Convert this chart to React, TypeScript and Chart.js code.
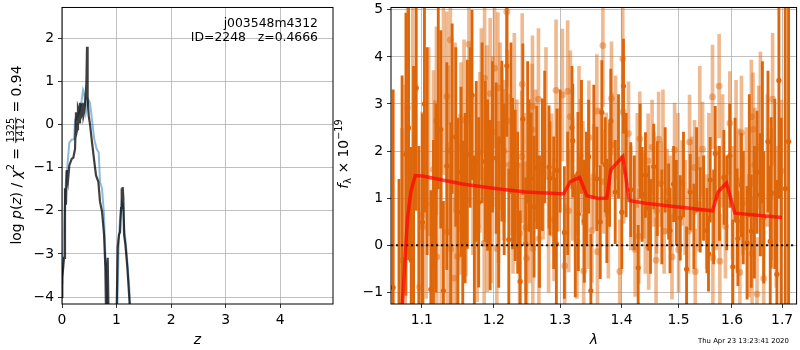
import React, { useEffect, useRef } from 'react';
import { Chart, registerables } from 'chart.js';

Chart.register(...registerables);

const FONT = '"DejaVu Sans", sans-serif';

// ---------------- left panel: log p(z) ----------------
const Z_TICKS = [0, 1, 2, 3, 4];
const LOGP_TICKS = [-4, -3, -2, -1, 0, 1, 2];
const LOGP_TICK_LABELS = ['\u22124', '\u22123', '\u22122', '\u22121', '0', '1', '2'];

const Z_DARK = [0.0, 0.006, 0.037, 0.055, 0.073, 0.086, 0.11, 0.134, 0.178, 0.208, 0.239, 0.257, 0.265, 0.281, 0.293, 0.306, 0.318, 0.33, 0.342, 0.355, 0.368, 0.38, 0.392, 0.404, 0.425, 0.447, 0.459, 0.47, 0.49, 0.514, 0.55, 0.593, 0.624, 0.667, 0.697, 0.734, 0.771, 0.795, 0.81, 0.825, 0.838, 0.856, 0.88, 0.98, 1.003, 1.021, 1.045, 1.064, 1.083, 1.095, 1.104, 1.113, 1.125, 1.138, 1.162, 1.199, 1.248, 1.28];
const LOGP_DARK = [-4.0, -3.55, -3.09, -1.48, -1.86, -1.06, -1.3, -0.95, -0.8, -0.77, -0.57, 0.28, -0.2, -0.11, 0.4, 0.35, 0.05, 0.5, 0.15, 0.2, 0.45, 0.5, 0.2, 0.28, 0.5, 0.96, 1.8, 0.6, 0.2, 0.0, -0.41, -0.87, -1.18, -1.33, -1.79, -2.02, -2.55, -3.3, -4.6, -3.4, -3.09, -4.6, -7, -7, -4.3, -2.86, -2.55, -2.5, -1.94, -1.48, -1.7, -1.45, -1.7, -2.55, -2.78, -3.32, -4.3, -5.5];

const Z_BLUE = [0.006, 0.043, 0.073, 0.098, 0.134, 0.178, 0.22, 0.24, 0.28, 0.32, 0.355, 0.386, 0.41, 0.44, 0.483, 0.514, 0.556, 0.593, 0.636, 0.673, 0.697, 0.734, 0.771, 0.8, 0.83, 0.86, 0.98, 1.02, 1.04, 1.064, 1.095, 1.12, 1.144, 1.187, 1.235, 1.27];
const LOGP_BLUE = [-3.7, -2.1, -1.27, -0.97, -0.42, -0.35, -0.35, 0.1, 0.18, 0.3, 0.5, 0.8, 0.7, 0.28, 0.58, 0.5, 0.04, -0.35, -0.57, -0.65, -1.33, -1.48, -2.1, -3.2, -4.1, -6, -6, -4.0, -2.7, -2.2, -1.8, -1.88, -2.4, -3.0, -3.8, -5];

const FIELD = 'j003548m4312';
const ID_LINE = 'ID=2248   z=0.4666';

// ---------------- right panel: spectrum ----------------
const WAVE_TICKS = [1.1, 1.2, 1.3, 1.4, 1.5, 1.6, 1.7];
const WAVE_TICK_LABELS = ['1.1', '1.2', '1.3', '1.4', '1.5', '1.6', '1.7'];
const FLUX_TICKS = [-1, 0, 1, 2, 3, 4, 5];
const FLUX_TICK_LABELS = ['\u22121', '0', '1', '2', '3', '4', '5'];

// beam A (dark)
const WAVE_A = [1.0625, 1.0700, 1.0790, 1.0824, 1.0859, 1.0925, 1.1008, 1.1034, 1.1120, 1.1155, 1.1254, 1.1290, 1.1336, 1.1460, 1.1488, 1.1533, 1.1557, 1.1621, 1.1687, 1.1747, 1.1781, 1.1875, 1.1909, 1.1946, 1.2033, 1.2116, 1.2189, 1.2218, 1.2274, 1.2312, 1.2387, 1.2427, 1.2472, 1.2522, 1.2552, 1.2597, 1.2638, 1.2725, 1.2827, 1.2840, 1.2941, 1.2950, 1.3067, 1.3188, 1.3200, 1.3283, 1.3290, 1.3386, 1.3455, 1.3492, 1.3590, 1.3646, 1.3672, 1.3728, 1.3755, 1.3821, 1.3895, 1.4006, 1.4034, 1.4158, 1.4286, 1.4355, 1.4412, 1.4469, 1.4556, 1.4821, 1.4846, 1.4911, 1.5031, 1.5146, 1.5213, 1.5398, 1.5523, 1.5553, 1.5585, 1.5680, 1.5844, 1.5959, 1.6017, 1.6101, 1.6115, 1.6183, 1.6295, 1.6379, 1.6492, 1.6558, 1.6626, 1.6712, 1.6758, 1.6778, 1.6893, 1.6934, 1.7064, 1.7133];
const FLUX_A = [-0.9, -1.4, 1.93, 2.49, -0.32, 3.34, 0.49, 3.0, -0.94, -0.07, 2.46, -0.97, 1.68, 2.30, 0.70, 1.56, 0.31, 1.93, 3.19, 1.78, 0.91, 1.78, 1.49, 0.85, 1.85, 2.21, 3.81, 0.12, 1.52, 1.27, -0.77, 2.68, 0.03, 1.69, 1.41, 0.82, 1.65, 1.71, 1.66, 1.42, 0.03, 1.59, 0.27, 2.50, 2.22, 1.52, 0.66, 0.51, 1.88, -0.97, 1.41, 0.49, 2.82, 1.71, 0.73, 2.64, 1.13, 0.70, 3.38, 1.18, -0.48, 1.08, 1.49, 0.79, 1.67, 0.93, 0.31, 1.30, 0.58, -0.51, 1.13, 0.75, 0.31, -0.18, 1.39, 1.95, 1.44, 1.90, -0.46, 0.52, 0.14, 1.28, 0.05, 0.30, 1.55, 1.07, 0.59, 2.20, 0.08, 1.11, -0.62, 3.50, 1.2, 2.2];
const ERR_A = [4.2, 2.8, 3.0, 2.8, 2.4, 2.6, 2.3, 2.3, 2.1, 2.3, 2.1, 1.9, 2.2, 1.9, 2.0, 1.8, 1.9, 2.0, 1.8, 1.7, 1.8, 1.7, 1.6, 1.8, 1.6, 1.7, 1.5, 1.5, 1.6, 1.6, 1.5, 1.6, 1.4, 1.4, 1.4, 1.5, 1.3, 1.4, 1.3, 1.2, 1.4, 1.3, 1.4, 1.3, 1.2, 1.3, 1.2, 1.3, 1.2, 1.2, 1.1, 1.2, 1.1, 1.0, 1.1, 1.1, 1.1, 1.2, 1.0, 1.0, 0.9, 1.0, 0.9, 0.9, 0.9, 0.8, 0.9, 0.8, 0.9, 0.9, 0.8, 0.9, 0.9, 0.8, 0.9, 1.0, 1.0, 1.1, 1.0, 1.1, 1.0, 1.1, 1.2, 1.2, 1.3, 1.3, 1.4, 1.5, 1.6, 1.6, 2.0, 2.5, 5.0, 5.0];

// beam A, bars whose markers are hidden among the others
const WAVE_A2 = [1.0740, 1.0890, 1.0960, 1.1070, 1.1190, 1.1220, 1.1390, 1.1410, 1.1590, 1.1660, 1.1720, 1.1830, 1.1980, 1.2070, 1.2150, 1.2250, 1.2350, 1.2500, 1.2680, 1.2760, 1.2900, 1.3000, 1.3120, 1.3240, 1.3340, 1.3420, 1.3540, 1.3800, 1.3950, 1.4080, 1.4220, 1.4320, 1.4500, 1.4620, 1.4700, 1.4760, 1.4960, 1.5090, 1.5280, 1.5330, 1.5460, 1.5650, 1.5760, 1.5900, 1.6060, 1.6220, 1.6340, 1.6440, 1.6600, 1.6850, 1.6980];
const FLUX_A2 = [0.8, 1.2, -0.3, 2.0, 1.0, 3.2, 0.6, 2.9, 1.0, 2.5, 0.2, 2.6, 2.3, 0.7, 1.4, 2.7, 0.9, 2.4, 0.5, 2.3, 0.9, 2.0, 1.1, 0.2, 2.3, 1.2, 2.2, 1.5, 2.1, 1.7, 0.9, 2.0, 0.4, 1.2, 0.6, 1.6, 0.9, 1.5, 0.4, 1.6, 1.0, 0.6, 1.1, 0.9, 1.6, 0.8, 1.9, 0.7, 2.4, 1.3, 0.5];
const ERR_A2 = [2.8, 2.6, 2.4, 2.2, 2.0, 2.0, 2.0, 1.8, 1.8, 1.7, 1.7, 1.7, 1.6, 1.6, 1.6, 1.6, 1.5, 1.5, 1.4, 1.4, 1.4, 1.3, 1.3, 1.3, 1.2, 1.2, 1.2, 1.1, 1.1, 1.1, 1.0, 1.0, 1.0, 1.0, 1.0, 0.9, 0.9, 0.9, 0.9, 0.9, 0.9, 1.0, 1.0, 1.0, 1.1, 1.2, 1.3, 1.4, 1.5, 1.8, 2.2];

// beam B (light)
const WAVE_B = [1.0738, 1.0811, 1.0968, 1.1004, 1.1013, 1.1057, 1.1155, 1.1174, 1.1195, 1.1200, 1.1336, 1.1344, 1.1357, 1.1385, 1.1392, 1.1440, 1.1482, 1.1519, 1.1533, 1.1575, 1.1602, 1.1644, 1.1760, 1.1799, 1.1860, 1.1866, 1.1899, 1.1905, 1.1946, 1.1985, 1.2010, 1.2043, 1.2058, 1.2068, 1.2116, 1.2141, 1.2150, 1.2189, 1.2195, 1.2238, 1.2338, 1.2378, 1.2412, 1.2418, 1.2472, 1.2483, 1.2567, 1.2573, 1.2578, 1.2664, 1.2670, 1.2734, 1.2869, 1.2905, 1.2936, 1.3036, 1.3072, 1.3119, 1.3135, 1.3162, 1.3267, 1.3322, 1.3364, 1.3375, 1.3460, 1.3509, 1.3537, 1.3590, 1.3600, 1.3689, 1.3700, 1.3745, 1.3833, 1.3840, 1.3972, 1.4022, 1.4030, 1.4040, 1.4120, 1.4233, 1.4296, 1.4313, 1.4382, 1.4458, 1.4469, 1.4528, 1.4598, 1.4609, 1.4644, 1.4686, 1.4740, 1.4798, 1.4882, 1.4929, 1.5001, 1.5063, 1.5183, 1.5201, 1.5293, 1.5306, 1.5367, 1.5441, 1.5628, 1.5635, 1.5754, 1.5768, 1.5875, 1.5959, 1.6134, 1.6154, 1.6185, 1.6212, 1.6379, 1.6393, 1.6413, 1.6447, 1.6492, 1.6526, 1.6592, 1.6626, 1.6778, 1.6806, 1.6981];
const FLUX_B = [-0.32, 2.92, -0.89, 0.63, 0.39, 0.87, 1.61, 1.17, 2.64, -0.25, 3.16, 0.28, 2.01, 4.36, -0.08, -0.70, -0.24, 1.08, 2.08, 2.66, 0.94, 4.27, 0.40, 1.97, 0.04, 3.55, 2.54, 0.51, 3.22, 2.41, 3.76, -0.07, 3.34, 1.13, 2.26, 1.71, 2.00, 4.96, 2.64, 1.71, 1.69, 0.25, 1.88, 3.42, 0.37, -0.28, 2.45, 2.95, -0.07, 3.10, 0.14, 1.53, 1.49, 0.54, 3.29, 3.19, -0.44, 3.27, 0.73, 2.73, 0.07, 1.90, 1.53, -0.55, 2.29, 0.31, 1.46, 2.85, -0.14, 4.24, 1.35, 1.71, 3.12, 2.13, -0.56, 3.96, 2.83, 1.56, 2.37, -0.09, 0.19, 2.26, 1.05, 1.79, -0.04, 2.08, -0.32, 0.73, 2.25, 1.30, 0.30, 1.14, -0.25, 2.02, -0.10, 1.32, 0.30, 2.19, 1.65, -0.56, 0.87, 2.04, 3.15, -0.27, 3.38, -0.34, 0.40, 2.59, 1.37, -0.58, 2.39, 0.89, 2.73, -0.18, 2.46, 1.71, -1.04, 2.08, 1.07, -0.71, 1.09, 3.10, 1.58];
const ERR_B = [2.8, 2.4, 2.3, 2.2, 2.1, 2.0, 2.1, 1.9, 2.0, 1.9, 1.8, 1.9, 1.8, 1.8, 1.8, 1.7, 1.8, 1.7, 1.8, 1.7, 1.6, 1.7, 1.6, 1.7, 1.6, 1.6, 1.7, 1.5, 1.6, 1.6, 1.7, 1.5, 1.6, 1.5, 1.5, 1.6, 1.5, 1.6, 1.5, 1.5, 1.4, 1.5, 1.4, 1.5, 1.4, 1.4, 1.4, 1.5, 1.4, 1.5, 1.4, 1.4, 1.3, 1.3, 1.5, 1.4, 1.3, 1.5, 1.3, 1.4, 1.2, 1.2, 1.1, 1.2, 1.2, 1.1, 1.1, 1.2, 1.1, 1.3, 1.1, 1.1, 1.2, 1.1, 1.1, 1.2, 1.1, 1.1, 1.1, 1.0, 1.0, 1.0, 0.9, 1.0, 0.9, 1.0, 0.9, 0.9, 1.0, 0.9, 0.9, 0.9, 0.9, 1.0, 0.9, 0.9, 0.9, 1.0, 1.0, 0.9, 1.0, 1.0, 1.1, 1.0, 1.1, 1.0, 1.1, 1.1, 1.1, 1.1, 1.2, 1.1, 1.2, 1.2, 1.2, 1.2, 1.2, 1.3, 1.3, 1.3, 1.4, 1.4, 1.5];

// beam B, bars whose markers are hidden among the others
const WAVE_B2 = [1.0780, 1.0880, 1.1090, 1.1260, 1.1290, 1.1450, 1.1700, 1.1820, 1.1960, 1.2090, 1.2280, 1.2300, 1.2450, 1.2530, 1.2620, 1.2780, 1.2820, 1.2980, 1.3200, 1.3300, 1.3440, 1.3650, 1.3780, 1.3900, 1.4160, 1.4270, 1.4410, 1.4560, 1.4720, 1.4850, 1.4990, 1.5120, 1.5240, 1.5390, 1.5520, 1.5560, 1.5700, 1.5820, 1.6010, 1.6080, 1.6280, 1.6330, 1.6560, 1.6700, 1.6880];
const FLUX_B2 = [1.0, 3.5, 2.2, 0.5, 3.3, 2.5, 1.5, 3.0, 0.8, 2.8, 0.9, 3.0, 1.4, 0.6, 1.9, 2.8, 0.3, 1.6, 1.4, 2.6, 0.7, 1.7, 0.5, 2.5, 1.0, 1.8, 0.4, 1.4, 2.3, 0.9, 1.8, 0.8, 1.3, 2.7, 0.5, 1.7, 1.0, 2.0, 0.9, 2.3, 1.2, 0.2, 2.7, 1.8, 0.6];
const ERR_B2 = [2.4, 2.2, 2.0, 1.9, 1.8, 1.8, 1.7, 1.6, 1.6, 1.5, 1.5, 1.5, 1.4, 1.4, 1.4, 1.4, 1.3, 1.3, 1.3, 1.2, 1.2, 1.2, 1.2, 1.1, 1.1, 1.0, 1.0, 1.0, 1.0, 1.0, 1.0, 1.0, 1.0, 1.1, 1.0, 1.1, 1.1, 1.2, 1.2, 1.2, 1.3, 1.3, 1.4, 1.4, 1.5];

// best-fit model
const MODEL_WAVE = [1.0676, 1.0746, 1.0811, 1.0855, 1.0912, 1.1008, 1.1551, 1.1990, 1.2467, 1.3004, 1.3056, 1.3162, 1.3310, 1.3427, 1.3618, 1.3755, 1.3821, 1.4023, 1.4132, 1.4407, 1.4996, 1.5628, 1.5735, 1.5894, 1.6056, 1.6996];
const MODEL_FLUX = [-3.0, -1.18, 0.58, 1.14, 1.48, 1.47, 1.30, 1.21, 1.13, 1.09, 1.09, 1.35, 1.44, 1.05, 0.99, 1.00, 1.60, 1.88, 0.95, 0.89, 0.81, 0.73, 1.13, 1.32, 0.68, 0.59];

const ZERO_LINE_WAVE = [1.0597, 1.73];
const ZERO_LINE_FLUX = [0, 0];

const TIMESTAMP = 'Thu Apr 23 13:23:41 2020';

// ---------------- helpers ----------------
type Seg = { t: string; italic?: boolean; scale?: number; dy?: number; frac?: [string, string] };

function segFont(seg: Seg, base: number) {
  const s = base * (seg.scale ?? 1);
  return `${seg.italic ? 'italic ' : ''}${s}px ${FONT}`;
}
function segWidth(ctx: CanvasRenderingContext2D, seg: Seg, base: number) {
  if (seg.frac) {
    ctx.font = `${base * 0.7}px ${FONT}`;
    return Math.max(ctx.measureText(seg.frac[0]).width, ctx.measureText(seg.frac[1]).width) + 2;
  }
  ctx.font = segFont(seg, base);
  return ctx.measureText(seg.t).width;
}
function richWidth(ctx: CanvasRenderingContext2D, segs: Seg[], base: number) {
  return segs.reduce((a, s) => a + segWidth(ctx, s, base), 0);
}
function drawRich(ctx: CanvasRenderingContext2D, segs: Seg[], base: number, x0: number) {
  let x = x0;
  ctx.textBaseline = 'alphabetic';
  for (const seg of segs) {
    const w = segWidth(ctx, seg, base);
    if (seg.frac) {
      ctx.font = `${base * 0.7}px ${FONT}`;
      ctx.textAlign = 'center';
      ctx.fillText(seg.frac[0], x + w / 2, -base * 0.44);
      ctx.fillText(seg.frac[1], x + w / 2, base * 0.24);
      ctx.fillRect(x + 0.5, -base * 0.37, w - 1, 0.8);
      ctx.textAlign = 'left';
    } else {
      ctx.font = segFont(seg, base);
      ctx.textAlign = 'left';
      ctx.fillText(seg.t, x, (seg.dy ?? 0) * base);
    }
    x += w;
  }
}

const LEFT_YLABEL: Seg[] = [
  { t: 'log ' },
  { t: 'p', italic: true },
  { t: '(' },
  { t: 'z', italic: true },
  { t: ')' },
  { t: ' / ' },
  { t: '\u03c7', italic: true },
  { t: '2', scale: 0.7, dy: -0.45 },
  { t: ' = ' },
  { t: '', frac: ['1325', '1412'] },
  { t: ' = 0.94' },
];

const RIGHT_YLABEL: Seg[] = [
  { t: 'f', italic: true },
  { t: '\u03bb', scale: 0.7, dy: 0.2 },
  { t: ' \u00d7 10' },
  { t: '\u221219', scale: 0.7, dy: -0.45 },
];

const framePlugin = {
  id: 'frame',
  afterDraw(chart: any) {
    const { ctx, chartArea } = chart;
    ctx.save();
    ctx.strokeStyle = '#000';
    ctx.lineWidth = 1;
    ctx.strokeRect(chartArea.left, chartArea.top, chartArea.right - chartArea.left, chartArea.bottom - chartArea.top);
    ctx.restore();
  },
};

const leftTextPlugin = {
  id: 'leftText',
  afterDraw(chart: any) {
    const ctx: CanvasRenderingContext2D = chart.ctx;
    ctx.save();
    ctx.fillStyle = '#000';
    ctx.font = `12.4px ${FONT}`;
    ctx.textAlign = 'right';
    ctx.textBaseline = 'alphabetic';
    ctx.fillText(FIELD, 318, 26.5);
    ctx.fillText(ID_LINE, 318, 41);
    const base = 13.9;
    const w = richWidth(ctx, LEFT_YLABEL, base);
    ctx.translate(20.5, 155);
    ctx.rotate(-Math.PI / 2);
    drawRich(ctx, LEFT_YLABEL, base, -w / 2);
    ctx.restore();
  },
};

const rightTextPlugin = {
  id: 'rightText',
  afterDraw(chart: any) {
    const ctx: CanvasRenderingContext2D = chart.ctx;
    ctx.save();
    ctx.fillStyle = '#000';
    ctx.font = `6.9px ${FONT}`;
    ctx.textAlign = 'left';
    ctx.textBaseline = 'alphabetic';
    ctx.fillText(TIMESTAMP, 368, 342.7);
    const base = 13.9;
    const w = richWidth(ctx, RIGHT_YLABEL, base);
    ctx.translate(18, 154);
    ctx.rotate(-Math.PI / 2);
    drawRich(ctx, RIGHT_YLABEL, base, -w / 2);
    ctx.restore();
  },
};

const gridOpts = {
  color: '#b0b0b0',
  lineWidth: 0.8,
  tickColor: '#000',
  tickLength: 4,
  tickWidth: 0.8,
  drawTicks: true,
  offset: false,
};

function tickOpts(labels: string[], values: number[], lineHeight = 1.2) {
  return {
    color: '#000',
    font: { family: FONT, size: 13.9, lineHeight },
    padding: 4,
    autoSkip: false,
    maxRotation: 0,
    minRotation: 0,
    callback: (v: any) => {
      const i = values.findIndex((t) => Math.abs(t - Number(v)) < 1e-9);
      return i >= 0 ? labels[i] : '';
    },
  };
}

const pairs = (xs: number[], ys: number[]) => xs.map((x, i) => ({ x, y: ys[i] }));
const bars = (xs: number[], ys: number[], es: number[]) => xs.map((x, i) => ({ x, y: [ys[i] - es[i], ys[i] + es[i]] }));

const DARK = 'rgb(222,102,10)';
const LIGHT = 'rgba(222,102,10,0.45)';

export default function App() {
  const leftRef = useRef<HTMLCanvasElement>(null);
  const rightRef = useRef<HTMLCanvasElement>(null);

  useEffect(() => {
    const left = new Chart(leftRef.current as HTMLCanvasElement, {
      type: 'line',
      data: {
        datasets: [
          {
            data: pairs(Z_DARK, LOGP_DARK),
            borderColor: 'rgba(0,0,0,0.75)',
            borderWidth: 2.2,
            pointRadius: 0,
            tension: 0,
            order: 0,
          },
          {
            data: pairs(Z_BLUE, LOGP_BLUE),
            borderColor: 'rgba(31,119,180,0.5)',
            borderWidth: 2,
            pointRadius: 0,
            tension: 0,
            order: 1,
          },
        ],
      } as any,
      options: {
        animation: false,
        responsive: true,
        maintainAspectRatio: false,
        layout: { padding: { left: 0, right: 12, top: 4, bottom: 0 } },
        plugins: { legend: { display: false }, tooltip: { enabled: false } },
        events: [],
        scales: {
          x: {
            type: 'linear',
            min: 0,
            max: 4.97,
            offset: false,
            afterBuildTicks: (s: any) => { s.ticks = Z_TICKS.map((v) => ({ value: v })); },
            afterFit: (s: any) => { s.height = 46; },
            ticks: tickOpts(Z_TICKS.map(String), Z_TICKS),
            grid: gridOpts,
            border: { display: false },
            title: { display: true, text: 'z', color: '#000', font: { family: FONT, size: 13.9, style: 'italic' }, padding: { top: 0, bottom: 1 } },
          },
          y: {
            type: 'linear',
            min: -4.16,
            max: 2.71,
            afterBuildTicks: (s: any) => { s.ticks = LOGP_TICKS.map((v) => ({ value: v })); },
            afterFit: (s: any) => { s.width = 62; },
            ticks: tickOpts(LOGP_TICK_LABELS, LOGP_TICKS, 0.5),
            grid: gridOpts,
            border: { display: false },
          },
        },
      } as any,
      plugins: [framePlugin, leftTextPlugin],
    });

    const right = new Chart(rightRef.current as HTMLCanvasElement, {
      type: 'line',
      data: {
        datasets: [
          {
            type: 'line',
            data: pairs(MODEL_WAVE, MODEL_FLUX),
            borderColor: 'rgba(255,0,0,0.7)',
            borderWidth: 3.5,
            pointRadius: 0,
            tension: 0,
            order: 0,
          },
          {
            type: 'line',
            data: pairs(ZERO_LINE_WAVE, ZERO_LINE_FLUX),
            borderColor: 'rgba(0,0,0,0.9)',
            borderWidth: 2,
            borderDash: [2.2, 2.8],
            pointRadius: 0,
            order: 1,
          },
          {
            type: 'line',
            data: pairs(WAVE_A, FLUX_A),
            showLine: false,
            pointRadius: 2.6,
            pointHoverRadius: 2.6,
            pointBorderWidth: 0,
            pointBackgroundColor: DARK,
            order: 2,
          },
          {
            type: 'bar',
            data: bars(WAVE_A, FLUX_A, ERR_A),
            backgroundColor: DARK,
            borderWidth: 0,
            barThickness: 2.2,
            grouped: false,
            order: 3,
          },
          {
            type: 'bar',
            data: bars(WAVE_A2, FLUX_A2, ERR_A2),
            backgroundColor: DARK,
            borderWidth: 0,
            barThickness: 2.2,
            grouped: false,
            order: 4,
          },
          {
            type: 'line',
            data: pairs(WAVE_B, FLUX_B),
            showLine: false,
            pointRadius: 3.4,
            pointHoverRadius: 3.4,
            pointBorderWidth: 0,
            pointBackgroundColor: LIGHT,
            order: 5,
          },
          {
            type: 'bar',
            data: bars(WAVE_B, FLUX_B, ERR_B),
            backgroundColor: LIGHT,
            borderWidth: 0,
            barThickness: 3,
            grouped: false,
            order: 6,
          },
          {
            type: 'bar',
            data: bars(WAVE_B2, FLUX_B2, ERR_B2),
            backgroundColor: LIGHT,
            borderWidth: 0,
            barThickness: 3,
            grouped: false,
            order: 7,
          },
        ],
      } as any,
      options: {
        animation: false,
        responsive: true,
        maintainAspectRatio: false,
        layout: { padding: { left: 0, right: 1, top: 4, bottom: 0 } },
        plugins: { legend: { display: false }, tooltip: { enabled: false } },
        events: [],
        scales: {
          x: {
            type: 'logarithmic',
            min: 1.0597,
            max: 1.73,
            offset: false,
            afterBuildTicks: (s: any) => { s.ticks = WAVE_TICKS.map((v) => ({ value: v })); },
            afterFit: (s: any) => { s.height = 46; },
            ticks: tickOpts(WAVE_TICK_LABELS, WAVE_TICKS),
            grid: gridOpts,
            border: { display: false },
            title: { display: true, text: '\u03bb', color: '#000', font: { family: FONT, size: 13.9, style: 'italic' }, padding: { top: 0, bottom: 1 } },
          },
          y: {
            type: 'linear',
            min: -1.25,
            max: 5.05,
            afterBuildTicks: (s: any) => { s.ticks = FLUX_TICKS.map((v) => ({ value: v })); },
            afterFit: (s: any) => { s.width = 61; },
            ticks: tickOpts(FLUX_TICK_LABELS, FLUX_TICKS, 0.5),
            grid: gridOpts,
            border: { display: false },
          },
        },
      } as any,
      plugins: [framePlugin, rightTextPlugin],
    });

    return () => {
      left.destroy();
      right.destroy();
    };
  }, []);

  return (
    <div style={{ position: 'fixed', left: 0, top: 0, width: 800, height: 350, background: '#fff' }}>
      <div style={{ position: 'absolute', left: 0, top: 0, width: 345, height: 350 }}>
        <canvas ref={leftRef} />
      </div>
      <div style={{ position: 'absolute', left: 330, top: 0, width: 470, height: 350 }}>
        <canvas ref={rightRef} />
      </div>
    </div>
  );
}
